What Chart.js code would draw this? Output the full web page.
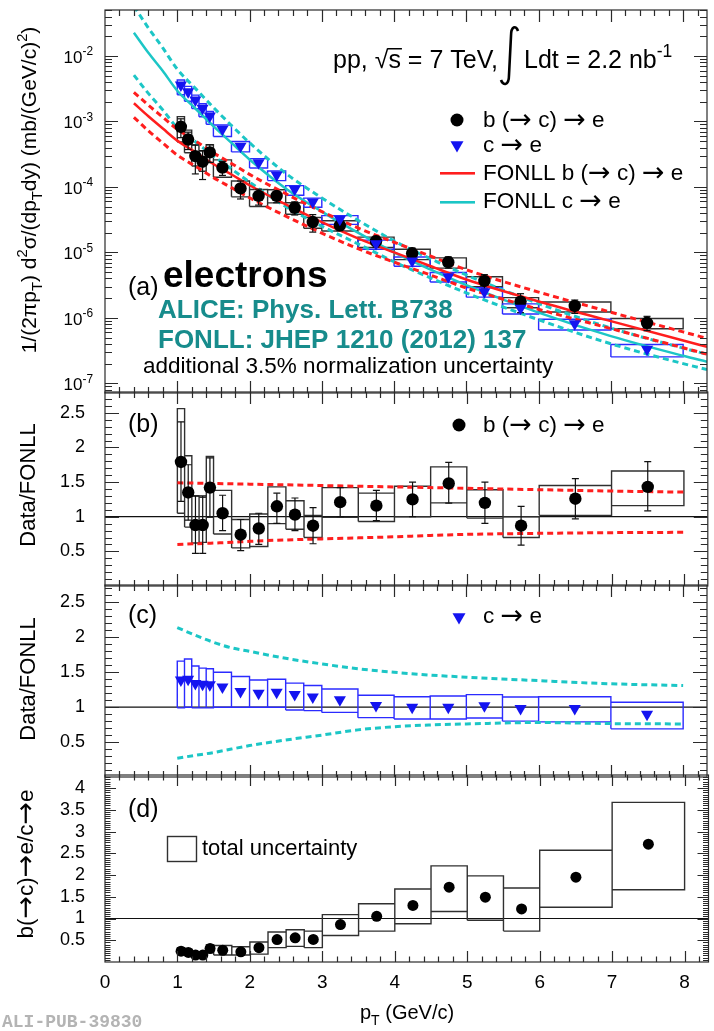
<!DOCTYPE html>
<html>
<head>
<meta charset="utf-8">
<title>Heavy-flavour decay electrons, pp 7 TeV</title>
<script src="https://cdn.jsdelivr.net/npm/chart.js@4.4.1/dist/chart.umd.min.js"></script>
<style>
  html, body { margin: 0; padding: 0; background: #fff; }
  #wrap { position: relative; width: 714px; height: 1031px; }
  #wrap canvas { position: absolute; left: 0; top: 0; }
</style>
</head>
<body>
<div id="wrap">
  <canvas id="panelA" width="714" height="1031"></canvas>
  <canvas id="panelB" width="714" height="1031"></canvas>
  <canvas id="panelC" width="714" height="1031"></canvas>
  <canvas id="panelD" width="714" height="1031"></canvas>
</div>
<script>
// pT bins (GeV/c)
const binLo = [1.0, 1.1, 1.2, 1.3, 1.4, 1.5, 1.75, 2.0, 2.25, 2.5, 2.75, 3.0, 3.5, 4.0, 4.5, 5.0, 5.5, 6.0, 7.0];
const binHi = [1.1, 1.2, 1.3, 1.4, 1.5, 1.75, 2.0, 2.25, 2.5, 2.75, 3.0, 3.5, 4.0, 4.5, 5.0, 5.5, 6.0, 7.0, 8.0];
const binCenter = [1.05, 1.15, 1.25, 1.35, 1.45, 1.625, 1.875, 2.125, 2.375, 2.625, 2.875, 3.25, 3.75, 4.25, 4.75, 5.25, 5.75, 6.5, 7.5];

// invariant cross sections, mb/(GeV/c)^2
const bCross = [8.3e-4, 5.3e-4, 2.96e-4, 2.43e-4, 3.37e-4, 1.97e-4, 9.5e-5, 7.3e-5, 7.3e-5, 4.8e-5, 2.91e-5, 2.59e-5, 1.48e-5, 9.7e-6, 7.1e-6, 3.66e-6, 1.77e-6, 1.52e-6, 8.4e-7];
const cCross = [3.6e-3, 2.85e-3, 2.13e-3, 1.59e-3, 1.21e-3, 7.6e-4, 4.2e-4, 2.34e-4, 1.52e-4, 9.2e-5, 5.9e-5, 3.2e-5, 1.35e-5, 7.4e-6, 4.26e-6, 2.5e-6, 1.4e-6, 8.1e-7, 3.3e-7];

// b (-> c) -> e over FONLL, with stat. bars and syst. boxes
const bRatio  = [1.79, 1.35, 0.88, 0.88, 1.42, 1.05, 0.74, 0.83, 1.15, 1.03, 0.87, 1.21, 1.16, 1.25, 1.48, 1.20, 0.87, 1.26, 1.43];
const bStatLo = [1.22, 0.95, 0.47, 0.47, 1.00, 0.80, 0.51, 0.60, 0.905, 0.80, 0.61, 1.00, 0.945, 1.00, 1.195, 0.905, 0.59, 0.97, 1.085];
const bStatHi = [2.37, 1.75, 1.30, 1.30, 1.85, 1.31, 0.96, 1.05, 1.34, 1.27, 1.13, 1.42, 1.38, 1.50, 1.785, 1.50, 1.15, 1.55, 1.795];
const bSysLo  = [1.05, 0.85, 0.62, 0.63, 0.99, 0.75, 0.55, 0.57, 0.90, 0.82, 0.70, 0.99, 0.93, 1.00, 1.20, 0.98, 0.70, 1.02, 1.16];
const bSysHi  = [2.56, 1.88, 1.30, 1.28, 1.87, 1.38, 0.96, 1.04, 1.43, 1.23, 1.02, 1.42, 1.34, 1.44, 1.72, 1.39, 1.00, 1.45, 1.66];

// c -> e over FONLL
const cRatio = [1.39, 1.40, 1.34, 1.33, 1.32, 1.29, 1.225, 1.20, 1.215, 1.18, 1.145, 1.106, 1.025, 1.00, 1.00, 1.02, 0.98, 0.98, 0.90];
const cSysLo = [0.99, 1.00, 0.99, 0.99, 0.99, 1.00, 1.00, 1.00, 1.00, 0.96, 0.95, 0.925, 0.85, 0.83, 0.83, 0.845, 0.80, 0.79, 0.69];
const cSysHi = [1.66, 1.69, 1.59, 1.56, 1.55, 1.50, 1.44, 1.39, 1.40, 1.345, 1.31, 1.26, 1.17, 1.15, 1.16, 1.18, 1.145, 1.15, 1.07];

// b (-> c) -> e / c -> e with total uncertainty
const bcRatio = [0.25, 0.22, 0.16, 0.16, 0.31, 0.27, 0.235, 0.33, 0.515, 0.555, 0.52, 0.86, 1.05, 1.30, 1.72, 1.49, 1.22, 1.95, 2.71];
const bcLo    = [0.17, 0.15, 0.10, 0.10, 0.22, 0.16, 0.16, 0.18, 0.33, 0.36, 0.33, 0.61, 0.71, 0.88, 1.16, 0.96, 0.71, 1.26, 1.66];
const bcHi    = [0.33, 0.29, 0.22, 0.22, 0.40, 0.38, 0.35, 0.46, 0.69, 0.74, 0.71, 1.09, 1.34, 1.68, 2.21, 1.98, 1.70, 2.57, 3.67];

// FONLL predictions: central values and upper/lower band as fraction of central
const fonllPt = [0.4, 0.6, 0.8, 1.0, 1.25, 1.5, 1.75, 2.0, 2.5, 3.0, 3.5, 4.0, 4.5, 5.0, 6.0, 7.0, 8.0, 8.33];
const fonllB = [1.9e-3, 1.2e-3, 7.8e-4, 5.1e-4, 3.4e-4, 2.24e-4, 1.55e-4, 1.06e-4, 5.4e-5, 2.9e-5, 1.64e-5, 1.0e-5, 6.2e-6, 3.85e-6, 1.78e-6, 8.9e-7, 4.5e-7, 3.6e-7];
const fonllBUp = [1.47, 1.48, 1.49, 1.49, 1.485, 1.48, 1.475, 1.47, 1.46, 1.45, 1.44, 1.43, 1.42, 1.41, 1.39, 1.37, 1.355, 1.35];
const fonllBLo = [0.61, 0.60, 0.60, 0.60, 0.61, 0.62, 0.63, 0.645, 0.665, 0.68, 0.695, 0.71, 0.73, 0.745, 0.76, 0.77, 0.775, 0.775];
const fonllC = [2.27e-2, 1.12e-2, 5.9e-3, 2.95e-3, 1.58e-3, 8.5e-4, 4.7e-4, 2.63e-4, 9.5e-5, 4.2e-5, 2.0e-5, 1.0e-5, 5.5e-6, 3.16e-6, 1.2e-6, 5.25e-7, 2.63e-7, 2.14e-7];
const fonllCUp = [2.55, 2.40, 2.25, 2.14, 2.03, 1.93, 1.85, 1.80, 1.70, 1.62, 1.55, 1.50, 1.46, 1.43, 1.38, 1.335, 1.31, 1.30];
const fonllCLo = [0.225, 0.24, 0.255, 0.27, 0.31, 0.35, 0.40, 0.45, 0.53, 0.60, 0.675, 0.72, 0.745, 0.76, 0.78, 0.765, 0.76, 0.76];

const FONT = "'Liberation Sans', Arial, Helvetica, sans-serif";
const ARROW_FONT = "'DejaVu Sans', sans-serif";
const X_MAX = 8.33;
const PLOT_LEFT = 105, PLOT_RIGHT = 710, H = 1031;
const RED = '#ff1e1e', CYAN = '#1cc6c6', BLUE = '#1414f0', TEAL = '#178c8c', BOXGREY = '#303030';

// ---------- dataset helpers ----------
function pts(xs, ys) { return xs.map((x, i) => ({ x: x, y: ys[i] })); }

function boxPath(lo, hi) {
  const out = [];
  binLo.forEach((x0, i) => {
    const x1 = binHi[i];
    out.push({ x: x0, y: lo[i] }, { x: x1, y: lo[i] }, { x: x1, y: hi[i] }, { x: x0, y: hi[i] }, { x: x0, y: lo[i] }, { x: x0, y: null });
  });
  return out;
}

function barPath(lo, hi) {
  const out = [];
  binCenter.forEach((x, i) => { out.push({ x: x, y: lo[i] }, { x: x, y: hi[i] }, { x: x, y: null }); });
  return out;
}

function lineSet(data, color, width, dash, smooth, order) {
  return {
    data: data, showLine: true, borderColor: color, borderWidth: width, borderDash: dash || [],
    pointRadius: 0, fill: false, spanGaps: false, order: order,
    cubicInterpolationMode: smooth ? 'monotone' : 'default', tension: 0
  };
}

function markerSet(data, style, radius, color, rotation, order) {
  return {
    data: data, showLine: false, pointStyle: style, pointRadius: radius, pointRotation: rotation || 0,
    backgroundColor: color, borderColor: color, borderWidth: 0, order: order
  };
}

function capSet(data, order) {
  return { data: data, showLine: false, pointStyle: 'line', pointRadius: 3.5, borderColor: '#111', borderWidth: 1.2, order: order };
}

// ---------- text helpers ----------
// parts: plain strings, or [text, 'sub'|'sup']; arrows are set in DejaVu, a bit larger
function rich(ctx, parts, x, y, size, align, weight) {
  const w0 = weight ? weight + ' ' : '';
  const items = [];
  parts.forEach(p => {
    const t = Array.isArray(p) ? p[0] : p;
    const s = Array.isArray(p) ? size * 0.7 : size;
    const dy = Array.isArray(p) ? (p[1] === 'sub' ? size * 0.28 : -size * 0.45) : 0;
    t.split(/(\u2192)/).filter(seg => seg.length).forEach(seg => {
      const arrow = seg === '\u2192';
      items.push({ t: seg, s: arrow ? s * 1.2 : s, dy: arrow ? dy + s * 0.03 : dy, f: arrow ? ARROW_FONT : FONT });
    });
  });
  let total = 0;
  items.forEach(it => { ctx.font = w0 + it.s + 'px ' + it.f; it.w = ctx.measureText(it.t).width; total += it.w; });
  let cx = align === 'center' ? x - total / 2 : align === 'right' ? x - total : x;
  ctx.textAlign = 'left';
  ctx.textBaseline = 'alphabetic';
  items.forEach(it => { ctx.font = w0 + it.s + 'px ' + it.f; ctx.fillText(it.t, cx, y + it.dy); cx += it.w; });
  return total;
}

function vtitle(ctx, parts, x, yc, size) {
  ctx.save();
  ctx.translate(x, yc);
  ctx.rotate(-Math.PI / 2);
  rich(ctx, parts, 0, 0, size, 'center');
  ctx.restore();
}

function dot(ctx, x, y, r) { ctx.beginPath(); ctx.arc(x, y, r, 0, Math.PI * 2); ctx.fill(); }

function downTriangle(ctx, x, y, r) {
  ctx.beginPath();
  ctx.moveTo(x, y + r);
  ctx.lineTo(x - r * 0.866, y - r / 2);
  ctx.lineTo(x + r * 0.866, y - r / 2);
  ctx.closePath();
  ctx.fill();
}

// ---------- axis ticks ----------
function linTicks(max, minor, perMajor) {
  const out = [];
  for (let i = 1; i * minor < max; i++) out.push({ v: i * minor, major: i % perMajor === 0 });
  return out;
}

function logTicks(min, max) {
  const out = [];
  for (let k = -9; k <= 0; k++) {
    for (let n = 1; n <= 9; n++) {
      const v = n * Math.pow(10, k);
      if (v >= min && v <= max) out.push({ v: v, major: n === 1, k: k });
    }
  }
  return out;
}

function drawFrame(chart, cfg) {
  const ctx = chart.ctx, a = chart.chartArea, xs = chart.scales.x, ys = chart.scales.y;
  ctx.save();
  ctx.strokeStyle = '#2a2a2a';
  ctx.lineWidth = 1.2;
  ctx.strokeRect(a.left, a.top, a.right - a.left, a.bottom - a.top);
  ctx.beginPath();
  for (let i = 1; i * 0.2 < X_MAX; i++) {
    const px = Math.round(xs.getPixelForValue(i * 0.2)) + 0.5;
    const len = i % 5 === 0 ? cfg.xTick[0] : cfg.xTick[1];
    ctx.moveTo(px, a.bottom); ctx.lineTo(px, a.bottom - len);
    ctx.moveTo(px, a.top); ctx.lineTo(px, a.top + len);
  }
  cfg.ticks.forEach(t => {
    const py = Math.round(ys.getPixelForValue(t.v)) + 0.5;
    const len = t.major ? cfg.yTick[0] : cfg.yTick[1];
    ctx.moveTo(a.left, py); ctx.lineTo(a.left + len, py);
    ctx.moveTo(a.right, py); ctx.lineTo(a.right - len, py);
  });
  ctx.stroke();
  ctx.restore();
}

// ---------- panel factory ----------
function makePanel(id, cfg) {
  const xAxisH = cfg.xLabels ? 40 : 0;
  return new Chart(document.getElementById(id), {
    type: 'scatter',
    data: { datasets: cfg.datasets },
    options: {
      responsive: false, animation: false, devicePixelRatio: 1, events: [],
      layout: { padding: { left: 0, right: 714 - PLOT_RIGHT, top: cfg.top, bottom: H - cfg.bottom - xAxisH } },
      plugins: { legend: { display: false }, tooltip: { enabled: false } },
      scales: {
        x: {
          type: 'linear', min: 0, max: X_MAX, display: cfg.xLabels,
          grid: { display: false }, border: { display: false },
          ticks: { stepSize: 1, includeBounds: false, autoSkip: false, maxRotation: 0, padding: 1, color: '#000', font: { family: FONT, size: 19 } },
          afterFit: s => { s.height = xAxisH; }
        },
        y: Object.assign({
          grid: { display: false }, border: { display: false },
          afterFit: s => { s.width = PLOT_LEFT; }
        }, cfg.y)
      }
    },
    plugins: [{
      id: 'decor' + id,
      afterDraw: chart => {
        drawFrame(chart, cfg);
        chart.ctx.save();
        chart.ctx.fillStyle = '#000';
        cfg.decor(chart.ctx, chart);
        chart.ctx.restore();
      }
    }]
  });
}

function linY(max) {
  return {
    type: 'linear', min: 0, max: max,
    ticks: {
      stepSize: 0.5, includeBounds: false, autoSkip: false, padding: 12, color: '#000',
      font: { family: FONT, size: 18 },
      callback: v => (v === 0 ? '' : String(v))
    }
  };
}

function unityLine() { return lineSet([{ x: 0, y: 1 }, { x: X_MAX, y: 1 }], '#111', 1.2, null, false, 5); }

const inRatioRange = (x) => x >= 1.0 && x <= 8.0;
function bandRatio(ratio) { return pts(fonllPt, ratio).filter(p => inRatioRange(p.x)); }
function bandAbs(central, ratio) { return fonllPt.map((x, i) => ({ x: x, y: central[i] * ratio[i] })); }
function relTo(cross, ratio, edge) { return cross.map((v, i) => v * edge[i] / ratio[i]); }

// ---------- (a) cross sections ----------
const LOG_MIN = 7.11e-8, LOG_MAX = 0.0505;
makePanel('panelA', {
  top: 10, bottom: 393, xLabels: false,
  xTick: [12, 6], yTick: [13, 7],
  ticks: logTicks(LOG_MIN, LOG_MAX),
  y: { type: 'logarithmic', min: LOG_MIN, max: LOG_MAX, ticks: { display: false } },
  datasets: [
    markerSet(pts(binCenter, cCross), 'triangle', 7, BLUE, 180, 0),
    markerSet(pts(binCenter, bCross), 'circle', 6.2, '#000', 0, 1),
    capSet(pts(binCenter, relTo(bCross, bRatio, bStatLo)).concat(pts(binCenter, relTo(bCross, bRatio, bStatHi))), 2),
    lineSet(barPath(relTo(bCross, bRatio, bStatLo), relTo(bCross, bRatio, bStatHi)), '#111', 1.2, null, false, 3),
    lineSet(pts(fonllPt, fonllB), RED, 2.5, null, true, 4),
    lineSet(bandAbs(fonllB, fonllBUp), RED, 3, [6, 4], true, 4),
    lineSet(bandAbs(fonllB, fonllBLo), RED, 3, [6, 4], true, 4),
    lineSet(pts(fonllPt, fonllC), CYAN, 2.5, null, true, 4),
    lineSet(bandAbs(fonllC, fonllCUp), CYAN, 3, [6, 4], true, 4),
    lineSet(bandAbs(fonllC, fonllCLo), CYAN, 3, [6, 4], true, 4),
    lineSet(boxPath(relTo(cCross, cRatio, cSysLo), relTo(cCross, cRatio, cSysHi)), '#2b2bff', 1.4, null, false, 6),
    lineSet(boxPath(relTo(bCross, bRatio, bSysLo), relTo(bCross, bRatio, bSysHi)), BOXGREY, 1.4, null, false, 7)
  ],
  decor: (ctx, chart) => {
    const ys = chart.scales.y;
    logTicks(LOG_MIN, LOG_MAX).filter(t => t.major).forEach(t => {
      rich(ctx, ['10', [String(t.k), 'sup']], 93, ys.getPixelForValue(t.v) + 7, 17, 'right');
    });
    vtitle(ctx, ['1/(2\u03C0p', ['T', 'sub'], ') d', ['2', 'sup'], '\u03C3/(dp', ['T', 'sub'], 'dy) (mb/(GeV/c)', ['2', 'sup'], ')'], 36, 190, 21);

    // collision system and luminosity
    ctx.font = '25px ' + FONT;
    ctx.textAlign = 'left';
    let x = 333;
    const base = 68;
    ctx.fillText('pp, ', x, base); x += ctx.measureText('pp, ').width;
    ctx.fillText('\u221A', x, base); x += ctx.measureText('\u221A').width;
    const sw = ctx.measureText('s').width;
    ctx.fillText('s', x, base);
    ctx.fillRect(x - 1, base - 20, sw + 2, 1.5);
    x += sw;
    ctx.fillText(' = 7 TeV,', x, base);
    // integral sign
    ctx.save();
    ctx.strokeStyle = '#000';
    ctx.lineWidth = 2.6;
    ctx.beginPath();
    ctx.moveTo(518, 31);
    ctx.bezierCurveTo(516, 25, 511, 26, 511, 36);
    ctx.lineTo(509, 75);
    ctx.bezierCurveTo(509, 86, 503, 86, 501, 80);
    ctx.stroke();
    ctx.restore();
    rich(ctx, ['Ldt = 2.2 nb', ['-1', 'sup']], 524, base, 25, 'left');

    // legend
    dot(ctx, 457, 120, 6.5);
    rich(ctx, ['b (\u2192 c) \u2192 e'], 483, 127, 22.5, 'left');
    ctx.fillStyle = BLUE;
    downTriangle(ctx, 457, 145, 7.5);
    ctx.fillStyle = '#000';
    rich(ctx, ['c \u2192 e'], 483, 152, 22.5, 'left');
    ctx.fillStyle = RED; ctx.fillRect(440, 172, 35, 2.6);
    ctx.fillStyle = CYAN; ctx.fillRect(440, 201, 35, 2.6);
    ctx.fillStyle = '#000';
    rich(ctx, ['FONLL b (\u2192 c) \u2192 e'], 483, 180, 22.5, 'left');
    rich(ctx, ['FONLL c \u2192 e'], 483, 208, 22.5, 'left');

    // panel label and references
    rich(ctx, ['(a)'], 128, 295, 25, 'left');
    rich(ctx, ['electrons'], 163, 287, 37, 'left', 'bold');
    ctx.fillStyle = TEAL;
    rich(ctx, ['ALICE: Phys. Lett. B738'], 158, 318, 26, 'left', 'bold');
    rich(ctx, ['FONLL: JHEP 1210 (2012) 137'], 158, 348, 26, 'left', 'bold');
    ctx.fillStyle = '#000';
    rich(ctx, ['additional 3.5% normalization uncertainty'], 143, 373, 22.5, 'left');
  }
});

// ---------- (b) b (-> c) -> e / FONLL ----------
makePanel('panelB', {
  top: 392, bottom: 586, xLabels: false,
  xTick: [12, 6], yTick: [14, 7],
  ticks: linTicks(2.8, 0.1, 5),
  y: linY(2.8),
  datasets: [
    markerSet(pts(binCenter, bRatio), 'circle', 6.2, '#000', 0, 0),
    capSet(pts(binCenter, bStatLo).concat(pts(binCenter, bStatHi)), 1),
    lineSet(barPath(bStatLo, bStatHi), '#111', 1.2, null, false, 2),
    lineSet(bandRatio(fonllBUp), RED, 3, [6, 4], true, 3),
    lineSet(bandRatio(fonllBLo), RED, 3, [6, 4], true, 3),
    lineSet(boxPath(bSysLo, bSysHi), BOXGREY, 1.4, null, false, 4),
    unityLine()
  ],
  decor: (ctx) => {
    vtitle(ctx, ['Data/FONLL'], 35, 485, 22);
    rich(ctx, ['(b)'], 128, 432, 25, 'left');
    dot(ctx, 459, 425, 6.5);
    rich(ctx, ['b (\u2192 c) \u2192 e'], 483, 432, 22.5, 'left');
  }
});

// ---------- (c) c -> e / FONLL ----------
makePanel('panelC', {
  top: 585, bottom: 777, xLabels: false,
  xTick: [12, 6], yTick: [14, 7],
  ticks: linTicks(2.75, 0.1, 5),
  y: linY(2.75),
  datasets: [
    markerSet(pts(binCenter, cRatio), 'triangle', 7, BLUE, 180, 0),
    lineSet(bandRatio(fonllCUp), CYAN, 3, [6, 4], true, 2),
    lineSet(bandRatio(fonllCLo), CYAN, 3, [6, 4], true, 2),
    lineSet(boxPath(cSysLo, cSysHi), '#2b2bff', 1.4, null, false, 3),
    unityLine()
  ],
  decor: (ctx) => {
    vtitle(ctx, ['Data/FONLL'], 35, 679, 22);
    rich(ctx, ['(c)'], 128, 623, 25, 'left');
    ctx.fillStyle = BLUE;
    downTriangle(ctx, 459, 617, 7.5);
    ctx.fillStyle = '#000';
    rich(ctx, ['c \u2192 e'], 483, 623, 22.5, 'left');
  }
});

// ---------- (d) b (-> c) -> e / c -> e ----------
makePanel('panelD', {
  top: 775, bottom: 962, xLabels: true,
  xTick: [11, 5.5], yTick: [11, 5.5],
  ticks: linTicks(4.3, 0.05, 10),
  y: linY(4.3),
  datasets: [
    markerSet(pts(binCenter, bcRatio), 'circle', 5.5, '#000', 0, 0),
    lineSet(boxPath(bcLo, bcHi), BOXGREY, 1.4, null, false, 2),
    unityLine()
  ],
  decor: (ctx) => {
    vtitle(ctx, ['b(\u2192c)\u2192e/c\u2192e'], 33, 864, 22.5);
    rich(ctx, ['(d)'], 128, 817, 25, 'left');
    ctx.strokeStyle = BOXGREY;
    ctx.lineWidth = 1.4;
    ctx.strokeRect(167.5, 836.5, 29, 25);
    rich(ctx, ['total uncertainty'], 202, 855, 22, 'left');
    rich(ctx, ['p', ['T', 'sub'], ' (GeV/c)'], 360, 1019, 20, 'left');
    ctx.fillStyle = '#b4b4b4';
    ctx.font = "bold 18px 'Liberation Mono', 'DejaVu Sans Mono', monospace";
    ctx.textAlign = 'left';
    ctx.fillText('ALI-PUB-39830', 2, 1027);
  }
});
</script>
</body>
</html>
